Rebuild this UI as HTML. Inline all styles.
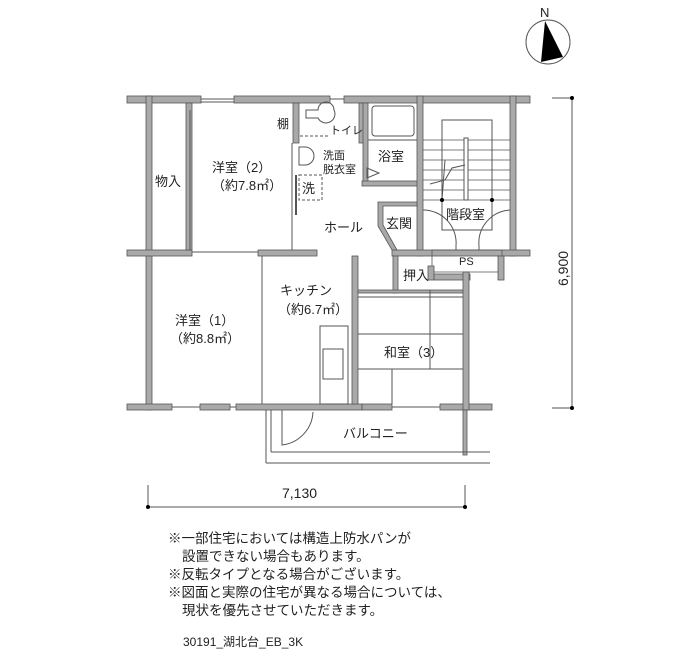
<!DOCTYPE html>
<html><head><meta charset="utf-8"><style>
html,body{margin:0;padding:0;background:#fff;}
svg{display:block;font-family:"Liberation Sans","Noto Sans CJK JP",sans-serif;}
</style></head><body>
<svg width="700" height="650" viewBox="0 0 700 650" xmlns="http://www.w3.org/2000/svg">
<g fill="#a9a9a9" stroke="#555" stroke-width="0.8">
<rect x="127" y="96" width="74" height="7"/>
<rect x="234" y="96" width="96" height="7"/>
<rect x="344" y="96" width="186" height="7"/>
<rect x="146" y="96" width="6" height="314"/>
<rect x="127" y="250" width="65" height="6"/>
<rect x="258" y="250" width="59" height="6"/>
<rect x="127" y="404" width="45" height="6"/>
<rect x="200" y="404" width="30" height="6"/>
<rect x="236" y="404" width="126" height="6"/>
<rect x="362" y="404" width="30" height="6"/>
<rect x="440" y="404" width="52" height="6"/>
<rect x="186" y="103" width="6" height="147"/>
<rect x="293" y="103" width="6" height="40"/>
<rect x="359" y="103" width="6" height="40"/>
<rect x="363" y="103" width="5" height="80"/>
<rect x="362" y="181" width="58" height="5"/>
<rect x="417" y="96" width="6" height="160"/>
<rect x="510" y="96" width="6" height="160"/>
<rect x="392" y="250" width="138" height="6"/>
<path d="M432 250 H502 V272 H432 Z" fill="none"/>
<rect x="428" y="266" width="6" height="14"/>
<rect x="498" y="256" width="6" height="24"/>
<rect x="434" y="274" width="36" height="6"/>
<rect x="352" y="256" width="6" height="148"/>
<rect x="393" y="256" width="5" height="37"/>
<rect x="358" y="290" width="105" height="3"/>
<rect x="463" y="272" width="6" height="138"/>
<rect x="463" y="410" width="4" height="45"/>
<path d="M378 202 H417 V206 H383 V225 L397 250 H392 L378 226 Z"/>
</g>
<g fill="none" stroke="#555" stroke-width="1">
<line x1="201" y1="99" x2="234" y2="99"/><line x1="201" y1="102" x2="234" y2="102"/>
<line x1="330" y1="99" x2="344" y2="99"/>
<line x1="172" y1="407" x2="200" y2="407"/><line x1="230" y1="407" x2="236" y2="407"/>
<line x1="392" y1="407" x2="440" y2="407"/>
<line x1="292" y1="143" x2="292" y2="250"/>
<line x1="192" y1="252" x2="258" y2="252"/>
<line x1="262" y1="256" x2="262" y2="404"/>
<line x1="190" y1="110" x2="190" y2="250"/>
<line x1="266" y1="410" x2="266" y2="463"/>
<line x1="271" y1="410" x2="271" y2="452"/>
<line x1="271" y1="452" x2="490" y2="452"/>
<line x1="266" y1="463" x2="490" y2="463"/>
<path d="M282 410 V445 A35 35 0 0 0 313 412"/>
<path d="M306 110 h12 a8 8 0 0 1 16 0 a8 8 0 0 1 -16 8 h-12 z"/>
<line x1="300" y1="136" x2="330" y2="136" stroke-dasharray="3 2"/>
<path d="M299 147 v18 h6 a9 9 0 0 0 0 -18 z"/>
<rect x="299" y="175" width="23" height="25" stroke-dasharray="3 2"/>
<line x1="296" y1="175" x2="296" y2="215" stroke-width="2"/>
<rect x="372" y="106" width="42" height="30" rx="3"/>
<line x1="368" y1="140" x2="417" y2="140"/>
<path d="M367 168 v10 l12 -5 z"/>
<rect x="442" y="120" width="50" height="110"/>
<g stroke-width="0.8">
<line x1="423" y1="140" x2="510" y2="140"/><line x1="423" y1="150" x2="510" y2="150"/>
<line x1="423" y1="160" x2="510" y2="160"/><line x1="423" y1="170" x2="510" y2="170"/>
<line x1="423" y1="180" x2="510" y2="180"/><line x1="423" y1="190" x2="510" y2="190"/>
<line x1="423" y1="200" x2="510" y2="200"/>
</g>
<rect x="464" y="138" width="4" height="62" fill="#fff"/>
<path d="M430 184 L445 180 L452 168 L465 165"/>
<path d="M445 160 L442 200"/>
<path d="M423 210 A33 33 0 0 1 456 246 V250"/>
<path d="M510 210 A33 33 0 0 0 479 246 V250"/>
<line x1="358" y1="297" x2="463" y2="297"/>
<line x1="358" y1="334" x2="463" y2="334"/>
<line x1="358" y1="369" x2="463" y2="369"/>
<line x1="430" y1="290" x2="430" y2="369"/>
<line x1="392" y1="369" x2="392" y2="404"/>
<rect x="320" y="326" width="28" height="78"/>
<rect x="323" y="349" width="20" height="30"/>
<line x1="552" y1="98" x2="572" y2="98"/>
<line x1="572" y1="98" x2="572" y2="408"/>
<line x1="552" y1="408" x2="572" y2="408"/>
<line x1="148" y1="485" x2="148" y2="507"/>
<line x1="148" y1="507" x2="465" y2="507"/>
<line x1="465" y1="485" x2="465" y2="507"/>
<circle cx="548" cy="42" r="22"/>
</g>
<g fill="#000">
<circle cx="442" cy="200" r="2"/><circle cx="492" cy="200" r="2"/>
<circle cx="572" cy="98" r="2"/><circle cx="572" cy="408" r="2"/>
<circle cx="148" cy="507" r="2"/><circle cx="465" cy="507" r="2"/>
<path d="M545 21 L541 62 L563 57 Z"/>
</g>
<g font-size="13" fill="#222">
<text x="540" y="17" font-size="13">N</text>
<text x="155" y="186">物入</text>
<text x="212" y="172">洋室（2）</text>
<text x="212" y="190">（約7.8㎡）</text>
<text x="277" y="128" font-size="12">棚</text>
<text x="330" y="134" font-size="11">トイレ</text>
<text x="323" y="159" font-size="11">洗面</text>
<text x="323" y="173" font-size="11">脱衣室</text>
<text x="302" y="193">洗</text>
<text x="378" y="161">浴室</text>
<text x="324" y="232">ホール</text>
<text x="386" y="228">玄関</text>
<text x="446" y="219">階段室</text>
<text x="459" y="265" font-size="11">PS</text>
<text x="403" y="280">押入</text>
<text x="280" y="295">キッチン</text>
<text x="278" y="314">（約6.7㎡）</text>
<text x="175" y="325">洋室（1）</text>
<text x="170" y="343">（約8.8㎡）</text>
<text x="384" y="357">和室（3）</text>
<text x="343" y="438">バルコニー</text>
<text x="282" y="498" font-size="14">7,130</text>
<text transform="translate(568,286) rotate(-90)" font-size="14">6,900</text>
</g>
<g font-size="13.5" fill="#222">
<text x="168" y="543">※一部住宅においては構造上防水パンが</text>
<text x="182" y="561">設置できない場合もあります。</text>
<text x="168" y="579">※反転タイプとなる場合がございます。</text>
<text x="168" y="597">※図面と実際の住宅が異なる場合については、</text>
<text x="182" y="615">現状を優先させていただきます。</text>
<text x="183" y="646" font-size="12">30191_湖北台_EB_3K</text>
</g>
</svg>
</body></html>
